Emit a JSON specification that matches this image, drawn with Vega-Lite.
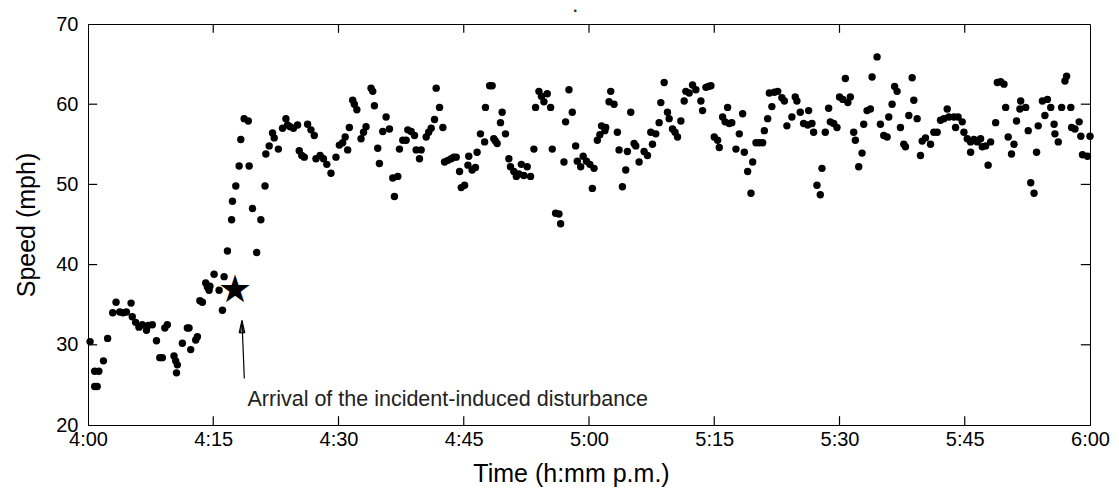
{
  "$schema": "https://vega.github.io/schema/vega-lite/v6.json",
  "width": 1002,
  "height": 401,
  "autosize": {"type": "none"},
  "padding": {"left": 88, "top": 24, "right": 29, "bottom": 73},
  "background": "white",
  "config": {
    "view": {"stroke": "black", "strokeWidth": 1},
    "axis": {"domainColor": "black", "labelColor": "black", "titleColor": "black", "grid": false, "ticks": false, "labelFont": "Liberation Sans", "titleFont": "Liberation Sans"}
  },
  "data": {"values": [
      {"kind":"speed","t":0.25,"s":30.4},{"kind":"speed","t":0.8,"s":24.8},{"kind":"speed","t":1.1,"s":24.8},{"kind":"speed","t":0.8,"s":26.7},{"kind":"speed","t":1.3,"s":26.7},{"kind":"speed","t":1.85,"s":28.0},{"kind":"speed","t":2.35,"s":30.8},{"kind":"speed","t":2.96,"s":34.0},{"kind":"speed","t":3.36,"s":35.3},{"kind":"speed","t":3.8,"s":34.1},{"kind":"speed","t":4.2,"s":34.0},{"kind":"speed","t":4.6,"s":34.1},{"kind":"speed","t":5.16,"s":35.2},{"kind":"speed","t":5.3,"s":33.5},{"kind":"speed","t":5.7,"s":32.8},{"kind":"speed","t":6.1,"s":32.2},{"kind":"speed","t":6.5,"s":32.5},{"kind":"speed","t":7.0,"s":31.8},{"kind":"speed","t":7.2,"s":32.4},{"kind":"speed","t":7.7,"s":32.5},{"kind":"speed","t":8.2,"s":30.5},{"kind":"speed","t":8.6,"s":28.4},{"kind":"speed","t":8.9,"s":28.4},{"kind":"speed","t":9.2,"s":32.1},{"kind":"speed","t":9.5,"s":32.5},{"kind":"speed","t":10.3,"s":28.6},{"kind":"speed","t":10.5,"s":28.0},{"kind":"speed","t":10.7,"s":27.5},{"kind":"speed","t":10.6,"s":26.5},{"kind":"speed","t":11.3,"s":30.2},{"kind":"speed","t":11.9,"s":32.1},{"kind":"speed","t":12.1,"s":32.1},{"kind":"speed","t":12.3,"s":29.4},{"kind":"speed","t":12.9,"s":30.6},{"kind":"speed","t":13.1,"s":31.0},{"kind":"speed","t":13.4,"s":35.5},{"kind":"speed","t":13.7,"s":35.3},{"kind":"speed","t":14.1,"s":37.7},{"kind":"speed","t":14.3,"s":37.2},{"kind":"speed","t":14.5,"s":36.8},{"kind":"speed","t":14.6,"s":37.3},{"kind":"speed","t":15.1,"s":38.8},{"kind":"speed","t":15.7,"s":36.8},{"kind":"speed","t":16.1,"s":34.3},{"kind":"speed","t":16.3,"s":38.5},{"kind":"speed","t":16.7,"s":41.7},{"kind":"speed","t":17.2,"s":45.6},{"kind":"speed","t":17.3,"s":47.9},{"kind":"speed","t":17.7,"s":49.8},{"kind":"speed","t":18.1,"s":52.3},{"kind":"speed","t":18.3,"s":55.6},{"kind":"speed","t":18.7,"s":58.2},{"kind":"speed","t":19.2,"s":57.9},{"kind":"speed","t":19.3,"s":52.3},{"kind":"speed","t":19.7,"s":47.0},{"kind":"speed","t":20.2,"s":41.5},{"kind":"speed","t":20.7,"s":45.6},{"kind":"speed","t":21.2,"s":49.8},{"kind":"speed","t":21.3,"s":53.8},{"kind":"speed","t":21.7,"s":54.8},{"kind":"speed","t":22.1,"s":56.4},{"kind":"speed","t":22.3,"s":55.8},{"kind":"speed","t":22.8,"s":54.4},{"kind":"speed","t":23.3,"s":57.0},{"kind":"speed","t":23.7,"s":58.2},{"kind":"speed","t":23.9,"s":57.4},{"kind":"speed","t":24.2,"s":57.2},{"kind":"speed","t":24.6,"s":57.0},{"kind":"speed","t":25.1,"s":57.4},{"kind":"speed","t":25.3,"s":54.2},{"kind":"speed","t":25.6,"s":53.6},{"kind":"speed","t":25.9,"s":53.4},{"kind":"speed","t":26.3,"s":57.5},{"kind":"speed","t":26.7,"s":56.8},{"kind":"speed","t":27.1,"s":56.1},{"kind":"speed","t":27.3,"s":53.2},{"kind":"speed","t":27.8,"s":53.6},{"kind":"speed","t":28.2,"s":53.2},{"kind":"speed","t":28.6,"s":52.5},{"kind":"speed","t":29.1,"s":51.4},{"kind":"speed","t":29.7,"s":53.4},{"kind":"speed","t":30.1,"s":54.9},{"kind":"speed","t":30.5,"s":55.2},{"kind":"speed","t":30.8,"s":55.9},{"kind":"speed","t":31.1,"s":54.3},{"kind":"speed","t":31.3,"s":57.1},{"kind":"speed","t":31.7,"s":60.5},{"kind":"speed","t":31.9,"s":60.0},{"kind":"speed","t":32.2,"s":59.3},{"kind":"speed","t":32.7,"s":55.7},{"kind":"speed","t":33.0,"s":56.5},{"kind":"speed","t":33.3,"s":57.2},{"kind":"speed","t":33.9,"s":62.0},{"kind":"speed","t":34.1,"s":61.6},{"kind":"speed","t":34.3,"s":59.8},{"kind":"speed","t":34.7,"s":54.5},{"kind":"speed","t":34.9,"s":52.6},{"kind":"speed","t":35.3,"s":56.6},{"kind":"speed","t":35.7,"s":58.4},{"kind":"speed","t":36.1,"s":56.9},{"kind":"speed","t":36.5,"s":50.8},{"kind":"speed","t":36.7,"s":48.5},{"kind":"speed","t":37.1,"s":51.0},{"kind":"speed","t":37.3,"s":54.4},{"kind":"speed","t":37.7,"s":55.5},{"kind":"speed","t":38.1,"s":55.5},{"kind":"speed","t":38.3,"s":56.8},{"kind":"speed","t":38.7,"s":56.6},{"kind":"speed","t":39.1,"s":56.1},{"kind":"speed","t":39.3,"s":54.3},{"kind":"speed","t":39.7,"s":53.2},{"kind":"speed","t":39.9,"s":54.3},{"kind":"speed","t":40.5,"s":55.9},{"kind":"speed","t":40.8,"s":56.5},{"kind":"speed","t":41.1,"s":57.0},{"kind":"speed","t":41.5,"s":58.1},{"kind":"speed","t":41.7,"s":62.0},{"kind":"speed","t":42.1,"s":59.6},{"kind":"speed","t":42.5,"s":57.1},{"kind":"speed","t":42.7,"s":52.8},{"kind":"speed","t":43.1,"s":53.0},{"kind":"speed","t":43.5,"s":53.2},{"kind":"speed","t":43.8,"s":53.4},{"kind":"speed","t":44.1,"s":53.4},{"kind":"speed","t":44.5,"s":51.6},{"kind":"speed","t":44.7,"s":49.6},{"kind":"speed","t":45.1,"s":49.9},{"kind":"speed","t":45.5,"s":52.4},{"kind":"speed","t":45.6,"s":53.5},{"kind":"speed","t":46.0,"s":51.8},{"kind":"speed","t":46.4,"s":52.1},{"kind":"speed","t":46.6,"s":54.0},{"kind":"speed","t":47.0,"s":56.3},{"kind":"speed","t":47.5,"s":55.3},{"kind":"speed","t":47.6,"s":59.6},{"kind":"speed","t":48.1,"s":62.3},{"kind":"speed","t":48.4,"s":62.3},{"kind":"speed","t":48.6,"s":55.7},{"kind":"speed","t":48.8,"s":55.4},{"kind":"speed","t":49.0,"s":55.1},{"kind":"speed","t":49.4,"s":57.7},{"kind":"speed","t":49.6,"s":59.0},{"kind":"speed","t":50.0,"s":56.3},{"kind":"speed","t":50.4,"s":53.2},{"kind":"speed","t":50.6,"s":52.2},{"kind":"speed","t":51.0,"s":51.6},{"kind":"speed","t":51.3,"s":51.0},{"kind":"speed","t":51.6,"s":51.3},{"kind":"speed","t":51.9,"s":52.5},{"kind":"speed","t":52.2,"s":51.1},{"kind":"speed","t":52.6,"s":52.2},{"kind":"speed","t":53.0,"s":51.0},{"kind":"speed","t":53.4,"s":54.4},{"kind":"speed","t":53.6,"s":59.6},{"kind":"speed","t":54.0,"s":61.6},{"kind":"speed","t":54.3,"s":61.0},{"kind":"speed","t":54.6,"s":60.3},{"kind":"speed","t":55.0,"s":61.3},{"kind":"speed","t":55.4,"s":59.6},{"kind":"speed","t":55.6,"s":54.4},{"kind":"speed","t":56.0,"s":46.4},{"kind":"speed","t":56.4,"s":46.3},{"kind":"speed","t":56.6,"s":45.1},{"kind":"speed","t":57.0,"s":52.8},{"kind":"speed","t":57.2,"s":57.8},{"kind":"speed","t":57.6,"s":61.8},{"kind":"speed","t":58.0,"s":59.0},{"kind":"speed","t":58.4,"s":54.8},{"kind":"speed","t":58.6,"s":52.9},{"kind":"speed","t":59.0,"s":52.2},{"kind":"speed","t":59.3,"s":53.5},{"kind":"speed","t":59.7,"s":52.9},{"kind":"speed","t":60.1,"s":52.5},{"kind":"speed","t":60.6,"s":52.0},{"kind":"speed","t":60.4,"s":49.5},{"kind":"speed","t":61.0,"s":55.5},{"kind":"speed","t":61.3,"s":56.2},{"kind":"speed","t":61.5,"s":57.3},{"kind":"speed","t":61.9,"s":56.7},{"kind":"speed","t":62.0,"s":57.1},{"kind":"speed","t":62.4,"s":60.3},{"kind":"speed","t":62.6,"s":61.6},{"kind":"speed","t":63.0,"s":60.0},{"kind":"speed","t":63.4,"s":56.5},{"kind":"speed","t":63.6,"s":54.3},{"kind":"speed","t":64.0,"s":49.7},{"kind":"speed","t":64.4,"s":51.8},{"kind":"speed","t":64.6,"s":54.1},{"kind":"speed","t":65.0,"s":59.0},{"kind":"speed","t":65.4,"s":55.1},{"kind":"speed","t":65.6,"s":54.8},{"kind":"speed","t":66.0,"s":52.8},{"kind":"speed","t":66.6,"s":54.1},{"kind":"speed","t":67.0,"s":53.6},{"kind":"speed","t":67.4,"s":56.5},{"kind":"speed","t":67.6,"s":55.0},{"kind":"speed","t":68.0,"s":56.3},{"kind":"speed","t":68.4,"s":57.7},{"kind":"speed","t":68.6,"s":60.2},{"kind":"speed","t":69.0,"s":62.7},{"kind":"speed","t":69.4,"s":59.0},{"kind":"speed","t":69.6,"s":58.2},{"kind":"speed","t":70.0,"s":56.9},{"kind":"speed","t":70.3,"s":56.5},{"kind":"speed","t":70.6,"s":55.9},{"kind":"speed","t":71.0,"s":57.9},{"kind":"speed","t":71.4,"s":60.4},{"kind":"speed","t":71.6,"s":61.6},{"kind":"speed","t":72.0,"s":61.4},{"kind":"speed","t":72.4,"s":62.4},{"kind":"speed","t":72.8,"s":61.8},{"kind":"speed","t":73.4,"s":60.4},{"kind":"speed","t":73.6,"s":59.2},{"kind":"speed","t":74.0,"s":62.1},{"kind":"speed","t":74.3,"s":62.2},{"kind":"speed","t":74.6,"s":62.3},{"kind":"speed","t":75.0,"s":55.9},{"kind":"speed","t":75.4,"s":55.5},{"kind":"speed","t":75.6,"s":54.6},{"kind":"speed","t":76.0,"s":58.4},{"kind":"speed","t":76.3,"s":57.8},{"kind":"speed","t":76.6,"s":59.6},{"kind":"speed","t":76.8,"s":57.6},{"kind":"speed","t":77.1,"s":57.7},{"kind":"speed","t":77.6,"s":54.4},{"kind":"speed","t":78.0,"s":56.3},{"kind":"speed","t":78.4,"s":58.8},{"kind":"speed","t":78.6,"s":54.0},{"kind":"speed","t":79.0,"s":51.6},{"kind":"speed","t":79.4,"s":48.9},{"kind":"speed","t":79.6,"s":52.8},{"kind":"speed","t":80.0,"s":55.2},{"kind":"speed","t":80.4,"s":55.2},{"kind":"speed","t":80.8,"s":55.2},{"kind":"speed","t":81.0,"s":56.7},{"kind":"speed","t":81.4,"s":58.2},{"kind":"speed","t":81.6,"s":61.4},{"kind":"speed","t":81.9,"s":59.7},{"kind":"speed","t":82.2,"s":61.5},{"kind":"speed","t":82.6,"s":61.6},{"kind":"speed","t":83.1,"s":60.8},{"kind":"speed","t":83.4,"s":60.4},{"kind":"speed","t":83.7,"s":57.3},{"kind":"speed","t":84.3,"s":58.4},{"kind":"speed","t":84.7,"s":60.9},{"kind":"speed","t":84.9,"s":60.4},{"kind":"speed","t":85.3,"s":59.0},{"kind":"speed","t":85.7,"s":57.6},{"kind":"speed","t":86.3,"s":59.2},{"kind":"speed","t":86.2,"s":57.4},{"kind":"speed","t":86.7,"s":57.6},{"kind":"speed","t":86.9,"s":56.5},{"kind":"speed","t":87.3,"s":49.9},{"kind":"speed","t":87.7,"s":48.7},{"kind":"speed","t":87.9,"s":52.0},{"kind":"speed","t":88.3,"s":56.5},{"kind":"speed","t":88.7,"s":59.5},{"kind":"speed","t":88.9,"s":57.8},{"kind":"speed","t":89.3,"s":57.6},{"kind":"speed","t":89.7,"s":57.1},{"kind":"speed","t":90.0,"s":60.9},{"kind":"speed","t":90.4,"s":60.6},{"kind":"speed","t":90.7,"s":63.2},{"kind":"speed","t":91.0,"s":60.2},{"kind":"speed","t":91.3,"s":60.9},{"kind":"speed","t":91.7,"s":56.5},{"kind":"speed","t":91.9,"s":55.5},{"kind":"speed","t":92.3,"s":52.2},{"kind":"speed","t":92.7,"s":53.9},{"kind":"speed","t":92.9,"s":57.5},{"kind":"speed","t":93.3,"s":59.2},{"kind":"speed","t":93.7,"s":59.4},{"kind":"speed","t":93.9,"s":63.4},{"kind":"speed","t":94.5,"s":65.9},{"kind":"speed","t":94.9,"s":57.5},{"kind":"speed","t":95.3,"s":56.1},{"kind":"speed","t":95.7,"s":55.9},{"kind":"speed","t":95.9,"s":58.4},{"kind":"speed","t":96.3,"s":60.0},{"kind":"speed","t":96.6,"s":62.2},{"kind":"speed","t":96.9,"s":61.6},{"kind":"speed","t":97.3,"s":57.1},{"kind":"speed","t":97.7,"s":55.0},{"kind":"speed","t":97.9,"s":54.7},{"kind":"speed","t":98.3,"s":58.6},{"kind":"speed","t":98.7,"s":63.3},{"kind":"speed","t":98.9,"s":60.5},{"kind":"speed","t":99.3,"s":58.2},{"kind":"speed","t":99.7,"s":53.6},{"kind":"speed","t":99.9,"s":55.4},{"kind":"speed","t":100.3,"s":55.8},{"kind":"speed","t":100.9,"s":55.0},{"kind":"speed","t":101.3,"s":56.5},{"kind":"speed","t":101.7,"s":56.5},{"kind":"speed","t":102.1,"s":58.0},{"kind":"speed","t":102.5,"s":58.2},{"kind":"speed","t":102.9,"s":59.4},{"kind":"speed","t":103.1,"s":58.4},{"kind":"speed","t":103.7,"s":58.4},{"kind":"speed","t":104.2,"s":58.4},{"kind":"speed","t":104.7,"s":57.8},{"kind":"speed","t":103.9,"s":57.1},{"kind":"speed","t":104.9,"s":56.5},{"kind":"speed","t":105.3,"s":55.7},{"kind":"speed","t":105.7,"s":55.3},{"kind":"speed","t":105.7,"s":54.0},{"kind":"speed","t":106.1,"s":55.6},{"kind":"speed","t":106.5,"s":55.3},{"kind":"speed","t":106.9,"s":55.7},{"kind":"speed","t":107.1,"s":54.7},{"kind":"speed","t":107.5,"s":54.8},{"kind":"speed","t":107.8,"s":52.4},{"kind":"speed","t":108.1,"s":55.3},{"kind":"speed","t":108.7,"s":57.7},{"kind":"speed","t":108.9,"s":62.7},{"kind":"speed","t":109.3,"s":62.8},{"kind":"speed","t":109.7,"s":62.5},{"kind":"speed","t":109.9,"s":59.6},{"kind":"speed","t":110.2,"s":55.9},{"kind":"speed","t":110.6,"s":53.8},{"kind":"speed","t":110.9,"s":55.0},{"kind":"speed","t":111.2,"s":57.9},{"kind":"speed","t":111.7,"s":60.4},{"kind":"speed","t":111.6,"s":59.4},{"kind":"speed","t":112.3,"s":59.6},{"kind":"speed","t":112.6,"s":56.7},{"kind":"speed","t":112.9,"s":50.2},{"kind":"speed","t":113.3,"s":48.9},{"kind":"speed","t":113.6,"s":54.0},{"kind":"speed","t":113.8,"s":57.3},{"kind":"speed","t":114.3,"s":60.4},{"kind":"speed","t":114.6,"s":58.6},{"kind":"speed","t":114.9,"s":60.6},{"kind":"speed","t":115.3,"s":59.6},{"kind":"speed","t":115.7,"s":57.5},{"kind":"speed","t":115.8,"s":56.3},{"kind":"speed","t":116.2,"s":55.3},{"kind":"speed","t":116.6,"s":59.6},{"kind":"speed","t":117.0,"s":62.9},{"kind":"speed","t":117.2,"s":63.5},{"kind":"speed","t":117.7,"s":59.6},{"kind":"speed","t":117.8,"s":57.1},{"kind":"speed","t":118.2,"s":56.9},{"kind":"speed","t":118.7,"s":57.8},{"kind":"speed","t":118.9,"s":56.0},{"kind":"speed","t":119.1,"s":53.7},{"kind":"speed","t":119.7,"s":53.5},{"kind":"speed","t":120.0,"s":56.0},
      {"kind":"tick","t":15,"t2":15,"s":20,"s2":21.1},{"kind":"tick","t":30,"t2":30,"s":20,"s2":21.1},{"kind":"tick","t":45,"t2":45,"s":20,"s2":21.1},{"kind":"tick","t":60,"t2":60,"s":20,"s2":21.1},{"kind":"tick","t":75,"t2":75,"s":20,"s2":21.1},{"kind":"tick","t":90,"t2":90,"s":20,"s2":21.1},{"kind":"tick","t":105,"t2":105,"s":20,"s2":21.1},
      {"kind":"tick","t":15,"t2":15,"s":70,"s2":68.9},{"kind":"tick","t":30,"t2":30,"s":70,"s2":68.9},{"kind":"tick","t":45,"t2":45,"s":70,"s2":68.9},{"kind":"tick","t":60,"t2":60,"s":70,"s2":68.9},{"kind":"tick","t":75,"t2":75,"s":70,"s2":68.9},{"kind":"tick","t":90,"t2":90,"s":70,"s2":68.9},{"kind":"tick","t":105,"t2":105,"s":70,"s2":68.9},
      {"kind":"tick","t":0,"t2":1.1,"s":30,"s2":30},{"kind":"tick","t":0,"t2":1.1,"s":40,"s2":40},{"kind":"tick","t":0,"t2":1.1,"s":50,"s2":50},{"kind":"tick","t":0,"t2":1.1,"s":60,"s2":60},
      {"kind":"tick","t":120,"t2":118.9,"s":30,"s2":30},{"kind":"tick","t":120,"t2":118.9,"s":40,"s2":40},{"kind":"tick","t":120,"t2":118.9,"s":50,"s2":50},{"kind":"tick","t":120,"t2":118.9,"s":60,"s2":60},
      {"kind":"arrow","t":18.72,"t2":18.44,"s":25.8,"s2":33.0},
      {"kind":"arrow","t":18.44,"t2":18.1,"s":33.0,"s2":31.5},
      {"kind":"arrow","t":18.44,"t2":18.78,"s":33.0,"s2":31.5},
      {"kind":"arrow","t":18.44,"t2":18.27,"s":33.0,"s2":31.5},
      {"kind":"arrow","t":18.44,"t2":18.61,"s":33.0,"s2":31.5},
      {"kind":"arrow","t":18.1,"t2":18.78,"s":31.5,"s2":31.5},
      {"kind":"star","t":17.6,"s":36.7,"text":"★"},
      {"kind":"label","t":19.1,"s":23.1,"text":"Arrival of the incident-induced disturbance"},
      {"kind":"dot","t":58.0,"s":72.3,"text":"."}
  ]},
  "encoding": {
    "x": {"field": "t", "type": "quantitative", "scale": {"domain": [0, 120], "nice": false, "zero": false},
      "axis": {"values": [0, 15, 30, 45, 60, 75, 90, 105, 120],
        "labelExpr": "(4 + floor(datum.value/60)) + ':' + (datum.value % 60 < 10 ? '0' : '') + (datum.value % 60)",
        "labelPadding": 4, "labelFontSize": 20, "labelFlush": false,
        "title": "Time (h:mm p.m.)", "titleFontSize": 25, "titleFontWeight": "normal", "titlePadding": 12, "titleX": 483}},
    "y": {"field": "s", "type": "quantitative", "scale": {"domain": [20, 70], "nice": false, "zero": false},
      "axis": {"values": [20, 30, 40, 50, 60, 70], "labelPadding": 10, "labelFontSize": 20,
        "title": "Speed (mph)", "titleFontSize": 25, "titleFontWeight": "normal", "titlePadding": 16}}
  },
  "layer": [
    {
      "transform": [{"filter": "datum.kind === 'speed'"}],
      "mark": {"type": "point", "shape": "circle", "filled": true, "color": "black", "opacity": 1, "size": 55}
    },
    {
      "transform": [{"filter": "datum.kind === 'tick' || datum.kind === 'arrow'"}],
      "mark": {"type": "rule", "color": "black", "strokeWidth": 1.2},
      "encoding": {
        "x2": {"field": "t2"},
        "y2": {"field": "s2"}
      }
    },
    {
      "transform": [{"filter": "datum.kind === 'star'"}],
      "mark": {"type": "text", "align": "center", "baseline": "middle", "fontSize": 38, "color": "black", "font": "DejaVu Sans"},
      "encoding": {
        "text": {"field": "text"}
      }
    },
    {
      "transform": [{"filter": "datum.kind === 'label' || datum.kind === 'dot'"}],
      "mark": {"type": "text", "align": "left", "baseline": "middle", "fontSize": 21.5, "color": "#222", "font": "Liberation Sans"},
      "encoding": {
        "text": {"field": "text"}
      }
    }
  ]
}
